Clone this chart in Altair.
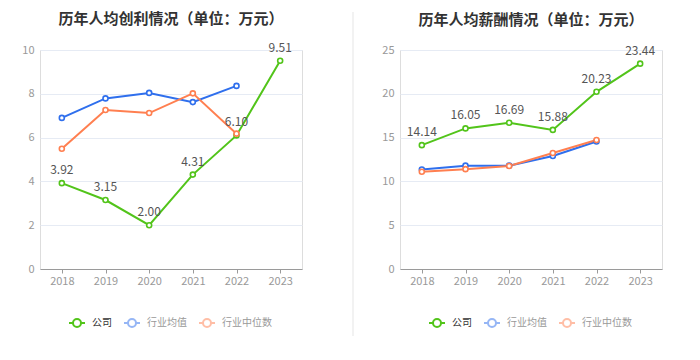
import altair as alt
import pandas as pd

years = ["2018", "2019", "2020", "2021", "2022", "2023"]
series = ["公司", "行业均值", "行业中位数"]
colors = ["#52c41a", "#2f6fed", "#ff7f50"]

profit_company = [3.92, 3.15, 2.00, 4.31, 6.10, 9.51]
profit_avg = [6.90, 7.79, 8.04, 7.62, 8.36]
profit_median = [5.49, 7.26, 7.12, 8.02, 6.18]

salary_company = [14.14, 16.05, 16.69, 15.88, 20.23, 23.44]
salary_avg = [11.36, 11.80, 11.80, 12.90, 14.55]
salary_median = [11.10, 11.40, 11.75, 13.25, 14.73]

FONT = "Noto Sans CJK SC"


def long_df(company, avg, median):
    rows = []
    for name, vals in zip(series, [company, avg, median]):
        for y, v in zip(years, vals):
            rows.append({"year": y, "series": name, "value": v})
    return pd.DataFrame(rows)


SYMBOL = "M-1,0H-0.5M0.5,0H1M-0.5,0A0.5,0.5,0,1,1,0.5,0A0.5,0.5,0,1,1,-0.5,0"


def panel(df, title, ymax, ystep, separator=False):
    base = alt.Chart(df).encode(
        x=alt.X(
            "year:N",
            scale=alt.Scale(type="point", padding=0.5, domain=years),
            axis=alt.Axis(
                title=None, labelAngle=0, domainColor="#9a9a9a", tickColor="#9a9a9a",
                tickSize=4, labelPadding=2, labelColor="#999", labelFontSize=11,
                labelFont=FONT, grid=False,
            ),
        ),
        y=alt.Y(
            "value:Q",
            scale=alt.Scale(domain=[0, ymax], nice=False),
            axis=alt.Axis(
                title=None, values=list(range(0, ymax + 1, ystep)), domain=False,
                ticks=False, labelPadding=6, labelColor="#999", labelFontSize=11,
                labelFont=FONT, gridColor="#e6ebf4", minExtent=30, maxExtent=30,
            ),
        ),
        color=alt.Color(
            "series:N",
            scale=alt.Scale(domain=series, range=colors),
            legend=alt.Legend(
                title=None, orient="none", legendX=28, legendY=264, direction="horizontal",
                symbolType=SYMBOL, symbolSize=256, symbolStrokeWidth=2,
                symbolFillColor="white",
                symbolOpacity=alt.ExprRef("datum.value === '公司' ? 1 : 0.5"),
                labelColor=alt.ExprRef("datum.value === '公司' ? '#333' : '#999'"),
                labelFontSize=10, labelFont=FONT, labelOffset=6, columnPadding=8,
            ),
        ),
    )
    line = base.mark_line(strokeWidth=2)
    pts = base.mark_point(filled=False, fill="white", fillOpacity=1, size=25, strokeWidth=1.6, opacity=1)
    labels = base.transform_filter(alt.datum.series == "公司").mark_text(
        dy=-13, fontSize=12, color="#555", font=FONT
    ).encode(text=alt.Text("value:Q", format=".2f"), color=alt.value("#555"))
    layers = [line, pts, labels]
    offset = 16
    if separator:
        sep = alt.Chart(pd.DataFrame({"a": [0]})).mark_rule(color="#f2f2f2", strokeWidth=2).encode(
            x=alt.value(313), y=alt.value(-38), y2=alt.value(286)
        )
        layers = [sep] + layers
        offset = -16
    return alt.layer(*layers).properties(
        width=262, height=219,
        title=alt.TitleParams(title, fontSize=15, font=FONT, fontWeight="bold", color="#333",
                              anchor="middle", offset=offset, frame="group"),
    )


left = panel(long_df(profit_company, profit_avg, profit_median),
             "历年人均创利情况（单位：万元）", 10, 2, separator=True)
right = panel(long_df(salary_company, salary_avg, salary_median),
              "历年人均薪酬情况（单位：万元）", 25, 5)

chart = alt.hconcat(left, right, spacing=98, bounds="flush").resolve_scale(color="independent").properties(
    padding={"left": 1, "top": 2, "right": 5, "bottom": 0}
).configure_view(stroke=None).configure(background="white")

chart.save("out.html", embed_options={"renderer": "svg", "actions": False})
